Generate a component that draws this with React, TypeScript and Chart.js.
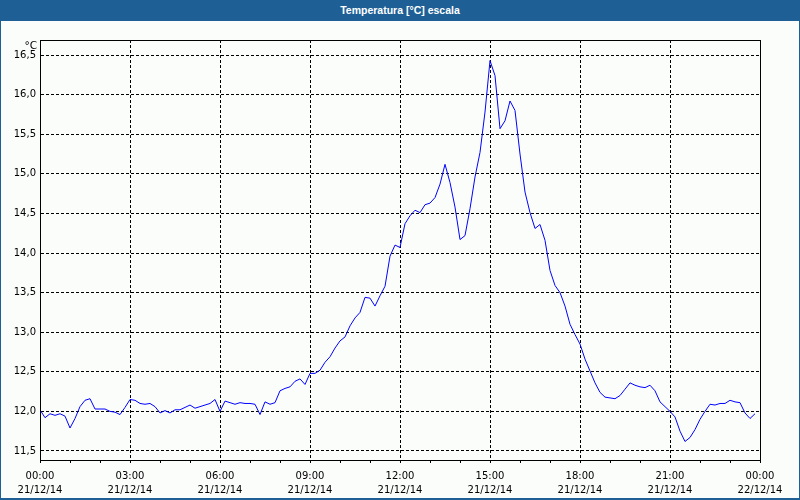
import React, { useEffect, useRef } from "react";
import { Chart, registerables } from "chart.js";

Chart.register(...registerables);

// Temperature readings every 10 minutes, starting 21/12/14 00:00
const temperatures: number[] = [
  12.02, 11.92, 11.97, 11.95, 11.97, 11.94, 11.79, 11.91, 12.06, 12.14,
  12.16, 12.03, 12.03, 12.03, 12.0, 11.99, 11.96, 12.05, 12.15, 12.14,
  12.1, 12.09, 12.1, 12.06, 11.98, 12.01, 11.98, 12.02, 12.02, 12.05,
  12.08, 12.04, 12.06, 12.08, 12.1, 12.15, 12.0, 12.13, 12.11, 12.09,
  12.11, 12.1, 12.1, 12.09, 11.96, 12.12, 12.09, 12.11, 12.26, 12.29,
  12.31, 12.38, 12.41, 12.34, 12.48, 12.48, 12.52, 12.62, 12.69, 12.8,
  12.89, 12.94, 13.08, 13.18, 13.25, 13.44, 13.43, 13.33, 13.46, 13.58,
  13.96, 14.1, 14.07, 14.37, 14.47, 14.54, 14.51, 14.61, 14.63, 14.7,
  14.87, 15.12, 14.89, 14.58, 14.17, 14.22, 14.56, 14.96, 15.27, 15.78,
  16.43, 16.24, 15.57, 15.67, 15.92, 15.8, 15.25, 14.77, 14.51, 14.31,
  14.36, 14.16, 13.78, 13.59, 13.5, 13.33, 13.1, 12.97, 12.85, 12.66,
  12.51, 12.36, 12.24, 12.18, 12.17, 12.16, 12.2, 12.28, 12.36, 12.33,
  12.31, 12.3, 12.33, 12.26, 12.12, 12.06, 12.0, 11.93, 11.75, 11.62,
  11.67, 11.77, 11.9, 12.0, 12.09, 12.08, 12.1, 12.1, 12.14, 12.12,
  12.11, 11.98, 11.91, 11.97,
];
const sampleMinutes = 10;

const timeLabels: string[] = ["00:00", "03:00", "06:00", "09:00", "12:00", "15:00", "18:00", "21:00", "00:00"];
const dateLabels: string[] = ["21/12/14", "21/12/14", "21/12/14", "21/12/14", "21/12/14", "21/12/14", "21/12/14", "21/12/14", "22/12/14"];

const title = "Temperatura [°C] escala";
const unitLabel = "°C";
const yMin = 11.386;
const yMax = 16.69;

const BLUE = "#1e5f96";
const FONT = "'DejaVu Sans', sans-serif";

export default function App() {
  const canvasRef = useRef<HTMLCanvasElement | null>(null);

  useEffect(() => {
    const canvas = canvasRef.current;
    if (!canvas) return;
    const points = temperatures.map((t, i) => ({ x: (i * sampleMinutes) / 60, y: t }));

    const framePlugin = {
      id: "frame",
      afterDraw(chart: any) {
        const { ctx, chartArea } = chart;
        ctx.save();
        ctx.strokeStyle = "#000";
        ctx.lineWidth = 1;
        ctx.strokeRect(
          Math.round(chartArea.left) + 0.5,
          Math.round(chartArea.top) + 0.5,
          Math.round(chartArea.right - chartArea.left),
          Math.round(chartArea.bottom - chartArea.top)
        );
        ctx.fillStyle = "#000";
        ctx.font = "10.5px " + FONT;
        ctx.textAlign = "right";
        ctx.textBaseline = "middle";
        ctx.fillText(unitLabel, chartArea.left - 3, chartArea.top + 6);
        ctx.restore();
      },
    };

    const chart = new Chart(canvas, {
      type: "line",
      data: {
        datasets: [
          {
            data: points,
            borderColor: "#0000ff",
            borderWidth: 1,
            pointRadius: 0,
            tension: 0,
            fill: false,
          },
        ],
      },
      options: {
        animation: false,
        responsive: false,
        parsing: false as any,
        layout: { padding: { left: 0, top: 40, right: 40, bottom: 0 } },
        plugins: { legend: { display: false }, tooltip: { enabled: false }, title: { display: false } },
        scales: {
          x: {
            type: "linear",
            min: 0,
            max: 24,
            afterFit(scale: any) {
              scale.height = 40;
            },
            border: { display: true, color: "#000", width: 1, dash: [3, 2] },
            grid: {
              color: (ctx: any) => (ctx.tick && ctx.tick.value % 3 === 0 ? "#000" : "rgba(0,0,0,0)"),
              tickColor: "#000",
              tickLength: 3,
              lineWidth: 1,
            },
            ticks: {
              stepSize: 1,
              autoSkip: false,
              maxRotation: 0,
              minRotation: 0,
              padding: 6,
              color: "#000",
              font: { family: FONT, size: 10, lineHeight: "14px" } as any,
              callback: (value: any) => {
                const v = Number(value);
                if (v % 3 !== 0) return "";
                const k = v / 3;
                return [timeLabels[k], dateLabels[k]];
              },
            },
          },
          y: {
            type: "linear",
            min: yMin,
            max: yMax,
            afterFit(scale: any) {
              scale.width = 40;
            },
            border: { display: true, color: "#000", width: 1, dash: [3, 2] },
            grid: { color: "#000", drawTicks: false, lineWidth: 1 },
            ticks: {
              stepSize: 0.5,
              includeBounds: false,
              padding: 4,
              color: "#000",
              font: { family: FONT, size: 10 },
              callback: (value: any) => Number(value).toFixed(1).replace(".", ","),
            },
          },
        },
      },
      plugins: [framePlugin],
    });
    return () => chart.destroy();
  }, []);

  return (
    <div style={{ position: "fixed", left: 0, top: 0, width: 800, height: 500, background: "#fbfdfb", overflow: "hidden" }}>
      <canvas ref={canvasRef} width={800} height={500} style={{ position: "absolute", left: 0, top: 0, width: 800, height: 500 }} />
      <div
        style={{
          position: "absolute",
          left: 0,
          top: 0,
          width: 800,
          height: 21,
          background: BLUE,
          color: "#fff",
          fontFamily: "'Liberation Sans', sans-serif",
          fontWeight: "bold",
          fontSize: 10.5,
          lineHeight: "21px",
          textAlign: "center",
        }}
      >
        {title}
      </div>
      <div
        style={{
          position: "absolute",
          left: 0,
          top: 0,
          width: 800,
          height: 500,
          boxSizing: "border-box",
          borderLeft: "1px solid " + BLUE,
          borderRight: "1px solid " + BLUE,
          borderBottom: "2px solid " + BLUE,
          pointerEvents: "none",
        }}
      />
    </div>
  );
}
